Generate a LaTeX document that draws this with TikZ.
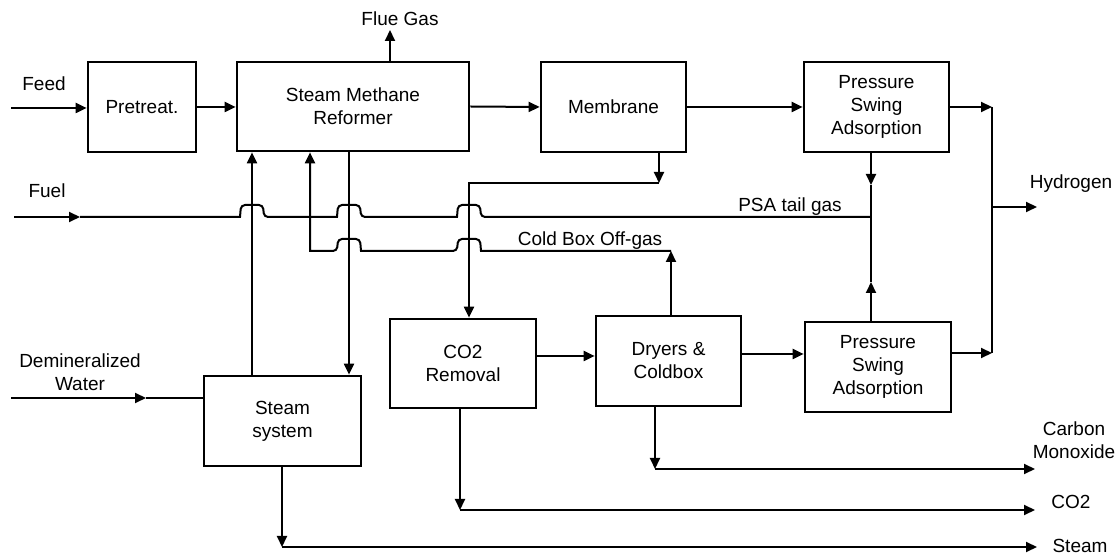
\documentclass[tikz,border=0pt]{standalone}
\usepackage{fontspec}
\setmainfont{Liberation Sans}
\usetikzlibrary{arrows.meta}
\begin{document}
\begin{tikzpicture}[x=0.5pt,y=-0.5pt,
  box/.style={draw, line width=1.35pt, align=center, inner sep=0pt, font=\fontsize{9.5}{11.5}\selectfont},
  lbl/.style={align=center, inner sep=0pt, font=\fontsize{9.5}{11.5}\selectfont},
  flow/.style={line width=1pt},
  arr/.style={flow, -{Triangle[length=5.5pt,width=5pt]}},
  hopr/.style 2 args={insert path={-- (#1-12,#2) {[rounded corners=2pt] -- (#1-11,#2-12) -- (#1+11,#2-12) -- (#1+12,#2)}}},
  hopl/.style 2 args={insert path={-- (#1+12,#2) {[rounded corners=2pt] -- (#1+11,#2-12) -- (#1-11,#2-12) -- (#1-12,#2)}}},
]
\useasboundingbox (0,0) rectangle (1120,555);

% boxes
\node[box, minimum width=54pt, minimum height=45pt] (pre) at (142,107) {Pretreat.};
\node[box, minimum width=116pt, minimum height=44.5pt] (smr) at (353,106.5) {Steam Methane\\Reformer};
\node[box, minimum width=72.5pt, minimum height=45pt] (mem) at (613.5,107) {Membrane};
\node[box, minimum width=72.5pt, minimum height=45pt] (psaA) at (876.5,107) {Pressure\\Swing\\Adsorption};
\node[box, minimum width=73pt, minimum height=44.5pt] (co2) at (463,363.5) {CO2\\Removal};
\node[box, minimum width=72.5pt, minimum height=45pt] (dry) at (668.5,361) {Dryers \&\\Coldbox};
\node[box, minimum width=73pt, minimum height=45pt] (psaB) at (878,367) {Pressure\\Swing\\Adsorption};
\node[box, minimum width=78.5pt, minimum height=45pt] (stm) at (282.5,421) {Steam\\system};

% labels
\node[lbl] (tFeed) at (44,84) {Feed};
\node[lbl] (tFlue) at (400,19) {Flue Gas};
\node[lbl] (tFuel) at (47,191) {Fuel};
\node[lbl] (tTail) at (790,207) {PSA tail gas};
\node[lbl] (tOff) at (590,241) {Cold Box Off-gas};
\node[lbl] (tH2) at (1071,184) {Hydrogen};
\node[lbl] (tDem) at (80,372) {Demineralized\\Water};
\node[lbl] (tCO) at (1074,440) {Carbon\\Monoxide};
\node[lbl] (tCO2) at (1071,502) {CO2};
\node[lbl] (tStm) at (1080,546) {Steam};

% coordinates
\coordinate (feedin) at (11,108);
\coordinate (flueout) at (390,30);
\coordinate (h1) at (992,107);
\coordinate (h2) at (992,353);
\coordinate (hy) at (992,207);
\coordinate (hyout) at (1037,207);
\coordinate (fuelin) at (14,217);
\coordinate (fuelarr) at (80,217);
\coordinate (tg) at (871,217);
\coordinate (tgA) at (871,185);
\coordinate (tgB) at (871,282);
\coordinate (mA) at (659,183);
\coordinate (mB) at (469,183);
\coordinate (oA) at (671,251);
\coordinate (oB) at (310,251);
\coordinate (xd) at (349,0);
\coordinate (xu) at (252,0);
\coordinate (dmin) at (11,398);
\coordinate (dmarr) at (146,398);
\coordinate (yc) at (0,356);
\coordinate (yd) at (0,354);
\coordinate (coA) at (655,469);
\coordinate (coout) at (1035,469);
\coordinate (cdA) at (460,510);
\coordinate (cdout) at (1035,510);
\coordinate (stA) at (282,547);
\coordinate (stout) at (1037,547);

% main train
\draw[arr] (feedin) -- (feedin -| pre.west);
\draw[arr] (pre.east) -- (smr.west |- pre.east);
\draw[arr] (smr.east) -- (mem.west);
\draw[arr] (mem.east) -- (psaA.west);
\draw[arr] (smr.north -| flueout) -- (flueout);

% hydrogen
\draw[arr] (psaA.east) -- (h1);
\draw[flow] (h1) -- (h2);
\draw[arr] (psaB.east |- h2) -- (h2);
\draw[arr] (hy) -- (hyout);

% fuel / tail gas
\draw[arr] (fuelin) -- (fuelarr);
\draw[flow] (fuelarr) [hopr={252}{217}] [hopr={349}{217}] [hopr={469}{217}] -- (tg);
\draw[arr] (psaA.south -| tg) -- (tgA);
\draw[flow] (tgA) -- (tg);
\draw[arr] (psaB.north -| tg) -- (tgB);
\draw[flow] (tgB) -- (tg);

% membrane to CO2 removal
\draw[arr] (mem.south -| mA) -- (mA);
\draw[arr] (mA) -- (mB) -- (co2.north -| mB);

% steam loops
\draw[arr] (smr.south -| xd) -- (stm.north -| xd);
\draw[arr] (stm.north -| xu) -- (smr.south -| xu);

% cold box off-gas
\draw[arr] (dry.north -| oA) -- (oA);
\draw[arr] (oA) [hopl={469}{251}] [hopl={349}{251}] -- (oB) -- (smr.south -| oB);

% demineralized water
\draw[arr] (dmin) -- (dmarr);
\draw[flow] (dmarr) -- (stm.west |- dmarr);

% lower train
\draw[arr] (co2.east |- yc) -- (dry.west |- yc);
\draw[arr] (dry.east |- yd) -- (psaB.west |- yd);

% products
\draw[arr] (dry.south -| coA) -- (coA);
\draw[arr] (coA) -- (coout);
\draw[arr] (co2.south -| cdA) -- (cdA);
\draw[arr] (cdA) -- (cdout);
\draw[arr] (stm.south -| stA) -- (stA);
\draw[arr] (stA) -- (stout);
\end{tikzpicture}
\end{document}
